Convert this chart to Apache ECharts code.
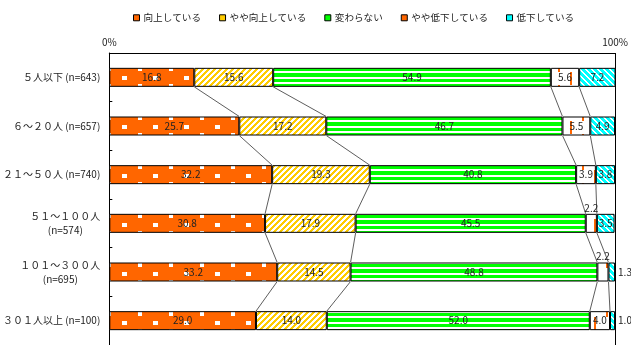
<!DOCTYPE html>
<html>
<head>
<meta charset="utf-8">
<script src="https://cdn.jsdelivr.net/npm/echarts@6/dist/echarts.min.js"></script>
<style>
  html, body { margin: 0; padding: 0; background: #fff; }
  #chart { width: 631px; height: 345px; }
</style>
</head>
<body>
<div id="chart"></div>
<script>
// Row labels (top to bottom)
const categories = [
  '５人以下 (n=643)',
  '６～２０人 (n=657)',
  '２１～５０人 (n=740)',
  '５１～１００人\n(n=574)',
  '１０１～３００人\n(n=695)',
  '３０１人以上 (n=100)'
];

const seriesNames = ['向上している', 'やや向上している', '変わらない', 'やや低下している', '低下している'];

// Shares (%) per row
const improved       = [16.8, 25.7, 32.2, 30.8, 33.2, 29.0];
const slightImproved = [15.6, 17.2, 19.3, 17.9, 14.5, 14.0];
const unchanged      = [54.9, 46.7, 40.8, 45.5, 48.8, 52.0];
const slightDecline  = [5.6, 5.5, 3.9, 2.2, 2.2, 4.0];
const declined       = [7.2, 4.9, 3.8, 3.5, 1.3, 1.0];

const xTicks = [0, 100];

const allValues = [improved, slightImproved, unchanged, slightDecline, declined];

const ORANGE = '#FF6600', YELLOW = '#FFCC00', GREEN = '#00FF00', CYAN = '#00FFFF';
const BAR_W = 19;

// ---- fill patterns (tiles are 49px tall so every row shares the same phase) ----
function tile(w, h, draw) {
  const c = document.createElement('canvas');
  c.width = w; c.height = h;
  const ctx = c.getContext('2d');
  draw(ctx, w, h);
  return { image: c, repeat: 'repeat' };
}
function pix(w, h, test, on, off) {
  return tile(w, h, (ctx) => {
    for (let y = 0; y < h; y++) for (let x = 0; x < w; x++) {
      ctx.fillStyle = test(x, y) ? on : off;
      ctx.fillRect(x, y, 1, 1);
    }
  });
}

const dotPattern = tile(31, 49, (ctx, w, h) => {
  ctx.fillStyle = ORANGE; ctx.fillRect(0, 0, w, h);
  ctx.fillStyle = '#fff';
  ctx.fillRect(14, 17, 4, 5);
  ctx.fillRect(0, 27, 3, 4); ctx.fillRect(29, 27, 2, 4);
  ctx.fillRect(14, 35, 4, 5);
});
const yellowPattern = pix(6, 6, (x, y) => ((x + y) % 6) < 3, YELLOW, '#fff');
const greenPattern = tile(4, 49, (ctx, w, h) => {
  ctx.fillStyle = '#fff'; ctx.fillRect(0, 0, w, h);
  ctx.fillStyle = GREEN;
  ctx.fillRect(0, 19, w, 3);
  ctx.fillRect(0, 24, w, 4);
  ctx.fillRect(0, 30, w, 3);
  ctx.fillRect(0, 35, w, 4);
});
const dashPattern = tile(24, 49, (ctx, w, h) => {
  ctx.fillStyle = '#fff'; ctx.fillRect(0, 0, w, h);
  ctx.fillStyle = ORANGE;
  ctx.fillRect(6, 17, 2, 6);
  ctx.fillRect(6, 36, 2, 6);
  ctx.fillRect(18, 23, 2, 13);
});
const cyanPattern = pix(6, 6, (x, y) => ((x - y + 60) % 6) < 2, '#fff', CYAN);

const fills = [dotPattern, yellowPattern, greenPattern, dashPattern, cyanPattern];
const legendColors = [ORANGE, YELLOW, GREEN, ORANGE, CYAN];

// Label placement for the narrow segments
function labelFor(si, ri) {
  if (si === 3 && (ri === 3 || ri === 4)) return { position: 'top', distance: 1 };
  if (si === 4 && (ri === 4 || ri === 5)) return { position: 'right', distance: 3 };
  return null;
}

const barSeries = seriesNames.map((name, si) => ({
  name,
  type: 'bar',
  stack: 'total',
  barWidth: BAR_W,
  itemStyle: { color: fills[si], borderColor: '#000', borderWidth: 1 },
  label: {
    show: true,
    position: 'inside',
    formatter: (p) => p.value.toFixed(1),
    fontSize: 10,
    color: '#222',
    fontFamily: 'Noto Sans CJK JP'
  },
  data: allValues[si].map((v, ri) => {
    const l = labelFor(si, ri);
    return l ? { value: v, label: l } : v;
  })
}));

// Connector lines between cumulative boundaries of adjacent rows
const connectors = [];
for (let ri = 0; ri < categories.length - 1; ri++) {
  let a = 0, b = 0;
  for (let si = 0; si < 4; si++) {
    a += allValues[si][ri];
    b += allValues[si][ri + 1];
    connectors.push([a, ri, b, ri + 1]);
  }
}

const connectorSeries = {
  type: 'custom',
  silent: true,
  z: 1,
  encode: { x: [0, 2], y: [1, 3] },
  renderItem: (params, api) => {
    const p1 = api.coord([api.value(0), api.value(1)]);
    const p2 = api.coord([api.value(2), api.value(3)]);
    const h = BAR_W / 2;
    return {
      type: 'line',
      shape: { x1: p1[0], y1: p1[1] + h, x2: p2[0], y2: p2[1] - h },
      style: { stroke: '#333', lineWidth: 0.8 }
    };
  },
  data: connectors
};

const chart = echarts.init(document.getElementById('chart'), null, { renderer: 'canvas' });
chart.setOption({
  animation: false,
  textStyle: { fontFamily: 'Noto Sans CJK JP' },
  legend: {
    left: 128,
    top: 8,
    itemWidth: 6,
    itemHeight: 6,
    itemGap: 18,
    icon: 'rect',
    textStyle: { fontSize: 9.6, color: '#222', padding: [0, 0, 0, -1] },
    data: seriesNames.map((n, i) => ({
      name: n,
      itemStyle: { color: legendColors[i], borderColor: '#000', borderWidth: 1 }
    }))
  },
  grid: { left: 109, right: 14, top: 53, height: 294, containLabel: false },
  xAxis: {
    type: 'value',
    position: 'top',
    min: xTicks[0],
    max: xTicks[xTicks.length - 1],
    interval: 100,
    axisLine: { show: true, lineStyle: { color: '#000', width: 1 } },
    axisTick: { show: true, inside: true, length: 3, lineStyle: { color: '#000' } },
    axisLabel: { formatter: '{value}%', fontSize: 10, color: '#222', margin: 6 },
    splitLine: { show: true, lineStyle: { color: '#000', width: 1 } }
  },
  yAxis: {
    type: 'category',
    inverse: true,
    data: categories,
    axisLine: { show: true, lineStyle: { color: '#000', width: 1 } },
    axisTick: { show: true, inside: true, length: 3, lineStyle: { color: '#000' } },
    axisLabel: {
      margin: 9,
      fontSize: 10,
      color: '#222',
      lineHeight: 14,
      formatter: (v) => {
        const parts = v.split('\n');
        if (parts.length === 1) return '{a|' + v + '}';
        return '{a|' + parts[0] + '}\n{b|' + parts[1] + '}';
      },
      rich: {
        a: { fontSize: 10, color: '#222', lineHeight: 14 },
        b: { fontSize: 10, color: '#222', lineHeight: 14, width: 62, align: 'center' }
      }
    }
  },
  series: [...barSeries, connectorSeries]
});
</script>
</body>
</html>
